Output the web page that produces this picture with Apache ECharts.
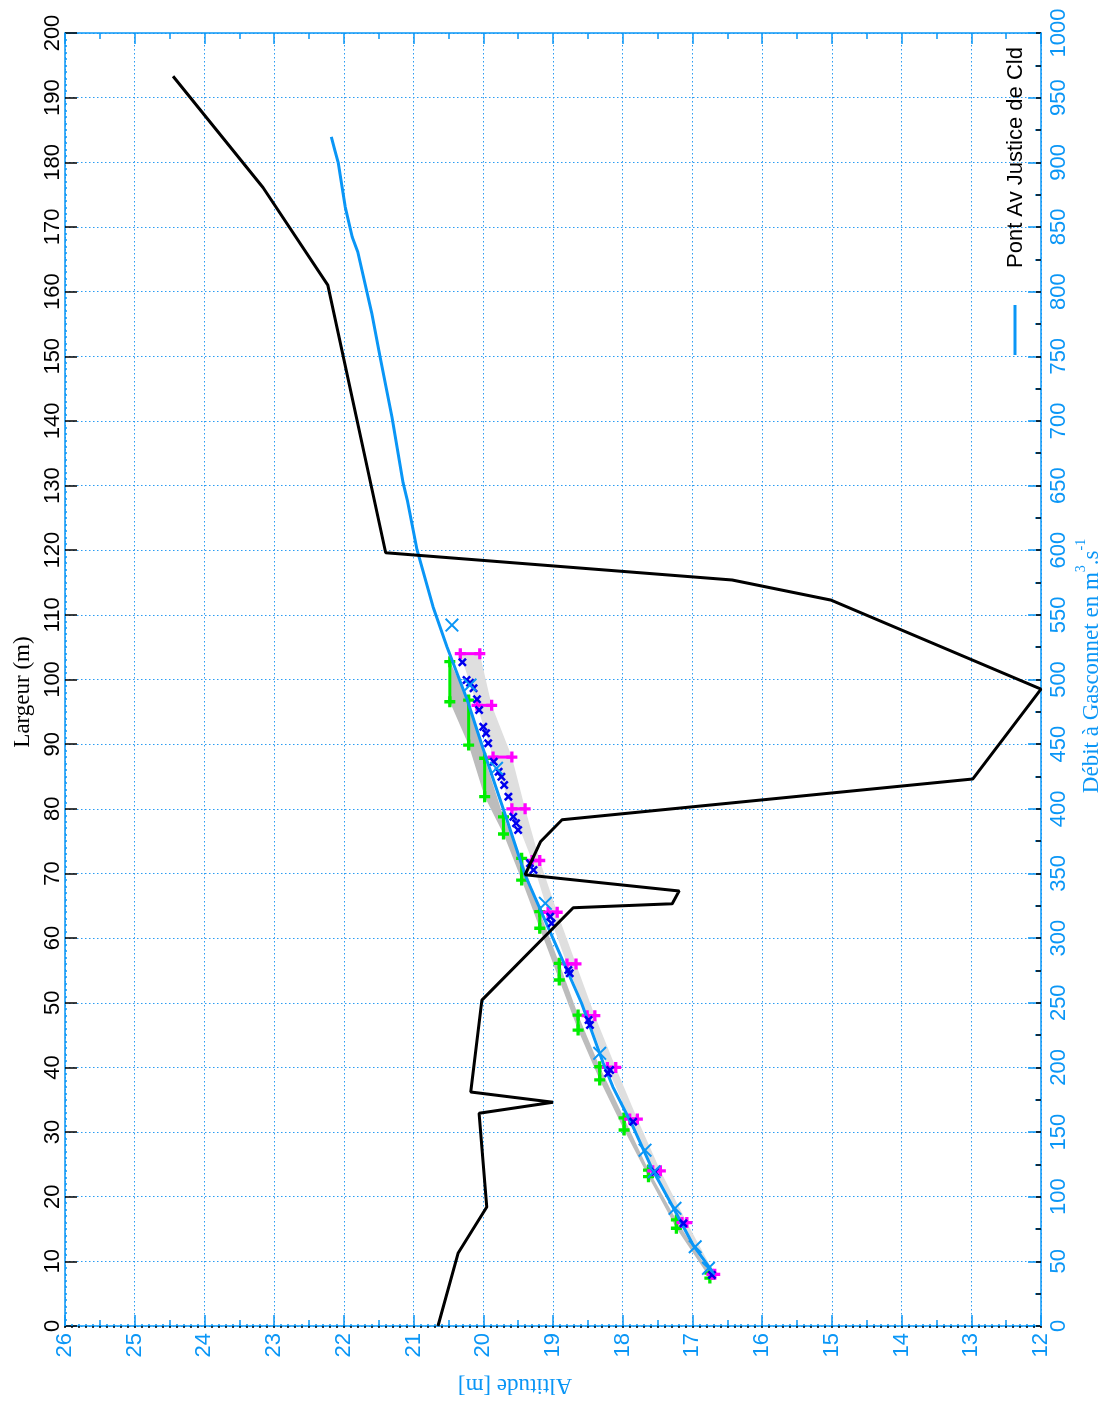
<!DOCTYPE html>
<html>
<head>
<meta charset="utf-8">
<script src="https://cdn.jsdelivr.net/npm/echarts@6/dist/echarts.min.js"></script>
<style>
  html, body { margin: 0; padding: 0; background: #ffffff; }
  #chart { width: 1107px; height: 1405px; }
</style>
</head>
<body>
<div id="chart"></div>
<script>
// Profil en travers : altitude (m) en fonction de la largeur (m)
const profileAlt   = [20.65, 20.36, 19.95, 20.06, 19.00, 20.18, 20.02, 18.71, 17.29, 17.19, 19.40, 19.18, 18.87, 12.98, 12.00, 15.02, 16.43, 21.40, 22.23, 23.16, 24.45];
const profileWidth = [0, 11.3, 18.4, 32.9, 34.6, 36.2, 50.4, 64.7, 65.3, 67.3, 69.8, 74.9, 78.3, 84.6, 98.5, 112.3, 115.4, 119.6, 161.0, 176.1, 193.3];

// Courbe de tarage : altitude (m) / débit (m3/s)
const ratingAlt = [16.70, 16.99, 17.28, 17.57, 17.85, 18.14, 18.28, 18.59, 19.00, 19.40, 19.66, 19.95, 20.23, 20.52, 20.72, 20.95, 21.09, 21.15, 21.31, 21.48, 21.60, 21.80, 21.88, 21.98, 22.08, 22.13, 22.18];
const ratingQ   = [41.0, 62.6, 92.0, 120.6, 153.9, 184.8, 203.4, 249.6, 299.8, 348.8, 391.3, 437.7, 484.1, 525.1, 556.1, 600.2, 638.8, 652.0, 703.0, 749.4, 783.4, 830.6, 842.2, 865.4, 899.5, 909.5, 919.6];

// Jaugeages (croix bleu clair)
const gaugeAlt = [16.77, 16.96, 17.25, 17.55, 17.68, 18.33, 19.11, 19.81, 20.19, 20.45];
const gaugeQ   = [44.6, 61.3, 91.0, 119.3, 136.0, 210.9, 326.9, 431.3, 495.7, 542.1];

// Points calculés (petites croix bleues)
const obsAlt = [20.30, 20.24, 20.19, 20.14, 20.09, 20.06, 20.00, 19.96, 19.93, 19.85, 19.78, 19.74, 19.70, 19.64, 19.57, 19.53, 19.50, 19.33, 19.28, 19.04, 19.02, 18.78, 18.76, 18.49, 18.47, 18.21, 18.18, 17.85, 17.54, 17.13, 16.72];
const obsQ   = [513.3, 499.6, 497.5, 493.2, 484.7, 476.4, 463.5, 458.4, 450.7, 436.4, 428.7, 424.8, 418.4, 409.4, 393.9, 388.8, 383.6, 357.9, 352.7, 316.6, 311.4, 275.3, 272.8, 236.7, 232.8, 195.4, 198.0, 158.0, 119.3, 79.4, 39.4];

// Intervalles en altitude à débit fixé (magenta)
const levelQ     = [40, 80, 120, 160, 200, 240, 280, 320, 360, 400, 440, 480, 520];
const magAltHigh = [16.72, 17.15, 17.57, 17.90, 18.22, 18.51, 18.80, 19.07, 19.30, 19.59, 19.86, 20.09, 20.33];
const magAltLow  = [16.68, 17.08, 17.46, 17.79, 18.10, 18.40, 18.67, 18.94, 19.19, 19.40, 19.59, 19.88, 20.05];

// Intervalles en débit à altitude fixée (vert)
const greenAlt   = [16.75, 17.23, 17.63, 17.98, 18.33, 18.64, 18.91, 19.19, 19.45, 19.71, 19.98, 20.21, 20.48];
const greenQLow  = [37.1, 75.6, 115.5, 151.6, 190.3, 228.9, 267.6, 307.6, 344.9, 380.5, 409.4, 449.3, 482.8];
const greenQHigh = [41.0, 82.0, 120.6, 160.9, 200.5, 240.5, 280.5, 320.4, 361.7, 393.7, 439.1, 484.1, 513.8];

const SANS  = '"Liberation Sans", Arial, sans-serif';
const SERIF = '"Liberation Serif", "Times New Roman", serif';
const BLUE = '#0a96f6';
const GRID_BLUE = '#2b9cf2';
const MAGENTA = '#ff00ff';
const GREEN = '#00ee00';
const NAVY = '#0000ee';

const PLUS  = 'path://M3.5,0H6.5V3.5H10V6.5H6.5V10H3.5V6.5H0V3.5H3.5Z';
const XTHIN = 'path://M0,1L1,0L5,4L9,0L10,1L6,5L10,9L9,10L5,6L1,10L0,9L4,5Z';
const XBOLD = 'path://M0,2L2,0L5,3L8,0L10,2L7,5L10,8L8,10L5,7L2,10L0,8L3,5Z';

const pairs = (a, b) => a.map((v, i) => [v, b[i]]);
const plain = (v) => String(v);

const chart = echarts.init(document.getElementById('chart'), null, { renderer: 'canvas' });

const gridLine = { show: true, lineStyle: { color: GRID_BLUE, type: [1.5, 2.5], width: 1 } };

const option = {
  animation: false,
  backgroundColor: '#ffffff',
  grid: { left: 65, right: 66, top: 33, bottom: 79, containLabel: false },
  xAxis: [
    { // altitude, bas
      type: 'value', min: 12, max: 26, interval: 1, inverse: true, position: 'bottom',
      axisLine: { show: true, onZero: false, lineStyle: { color: BLUE, width: 1.5 } },
      axisTick: { show: true, inside: true, length: 11, lineStyle: { color: BLUE, width: 1.5 } },
      minorTick: { show: true, splitNumber: 2, length: 6, lineStyle: { color: BLUE, width: 1.5 } },
      axisLabel: { rotate: 90, margin: 7, color: BLUE, fontSize: 22, fontFamily: SANS, formatter: plain },
      splitLine: gridLine
    },
    { // altitude, haut
      type: 'value', min: 12, max: 26, interval: 1, inverse: true, position: 'top',
      axisLine: { show: true, onZero: false, lineStyle: { color: BLUE, width: 1.5 } },
      axisTick: { show: true, inside: true, length: 11, lineStyle: { color: BLUE, width: 1.5 } },
      minorTick: { show: true, splitNumber: 2, length: 6, lineStyle: { color: BLUE, width: 1.5 } },
      axisLabel: { show: false }, splitLine: { show: false }
    },
    { // graduations fines, bas
      type: 'value', min: 12, max: 26, interval: 0.1, inverse: true, position: 'top',
      axisLine: { show: false }, axisLabel: { show: false }, splitLine: { show: false },
      axisTick: { show: true, inside: true, length: 2, lineStyle: { color: '#000000', width: 1.5 } }
    },
    { // graduations fines, haut
      type: 'value', min: 12, max: 26, interval: 0.1, inverse: true, position: 'bottom',
      axisLine: { show: false }, axisLabel: { show: false }, splitLine: { show: false },
      axisTick: { show: true, inside: true, length: 2, lineStyle: { color: BLUE, width: 1.5 } }
    }
  ],
  yAxis: [
    { // largeur
      type: 'value', min: 0, max: 200, interval: 10, position: 'left',
      axisLine: { show: true, onZero: false, lineStyle: { color: BLUE, width: 1.5 } },
      axisTick: { show: true, inside: true, length: 12, lineStyle: { color: '#000000', width: 1.5 } },
      minorTick: { show: true, splitNumber: 10, length: 2, lineStyle: { color: BLUE, width: 1.5 } },
      axisLabel: { rotate: 90, margin: 1, color: '#000000', fontSize: 22, fontFamily: SANS, formatter: plain },
      splitLine: { show: false }
    },
    { // débit
      type: 'value', min: 0, max: 1000, interval: 50, position: 'right',
      axisLine: { show: true, onZero: false, lineStyle: { color: BLUE, width: 1.5 } },
      axisTick: { show: true, inside: true, length: 13, lineStyle: { color: BLUE, width: 1.5 } },
      minorTick: { show: true, splitNumber: 2, length: 6, lineStyle: { color: BLUE, width: 1.5 } },
      axisLabel: { rotate: 90, margin: 7, color: BLUE, fontSize: 22, fontFamily: SANS, formatter: plain },
      splitLine: gridLine
    },
    { // largeur, graduations intermédiaires
      type: 'value', min: 0, max: 200, interval: 5, position: 'right',
      axisLine: { show: false }, axisLabel: { show: false }, splitLine: { show: false },
      axisTick: { show: true, inside: true, length: 5, lineStyle: { color: '#000000', width: 1.5 } }
    }
  ],
  graphic: [
    {
      type: 'text', x: 23, y: 692, rotation: Math.PI / 2, silent: true,
      style: { text: 'Largeur (m)', font: '23px ' + SERIF, fill: '#000000', align: 'center', verticalAlign: 'middle' }
    },
    {
      type: 'text', x: 515, y: 1385, rotation: Math.PI, silent: true,
      style: { text: 'Altitude [m]', font: '23px ' + SERIF, fill: BLUE, align: 'center', verticalAlign: 'middle' }
    },
    {
      type: 'text', x: 1089, y: 666, rotation: Math.PI / 2, silent: true,
      style: {
        text: '{a|Débit à Gasconnet en m}{s|3}{a|.s}{s|-1}',
        align: 'center', verticalAlign: 'middle',
        rich: {
          a: { fontSize: 23, fontFamily: SERIF, fill: BLUE, lineHeight: 29, verticalAlign: 'bottom' },
          s: { fontSize: 14, fontFamily: SERIF, fill: BLUE, lineHeight: 14, verticalAlign: 'top' }
        }
      }
    },
    {
      type: 'group', silent: true,
      children: [
        { type: 'line', shape: { x1: 1015, y1: 305, x2: 1015, y2: 355 }, style: { stroke: BLUE, lineWidth: 3 } },
        {
          type: 'text', x: 1016, y: 268, rotation: Math.PI / 2,
          style: { text: 'Pont Av Justice de Cld', font: '22px ' + SANS, fill: '#000000', align: 'left', verticalAlign: 'middle' }
        }
      ]
    }
  ],
  series: [
    { // bande claire (intervalles en altitude)
      type: 'custom', xAxisIndex: 0, yAxisIndex: 1, z: 1, silent: true,
      data: [[magAltHigh[0], levelQ[0]]],
      renderItem: function (params, api) {
        const pts = [];
        for (let i = 0; i < levelQ.length; i++) pts.push(api.coord([magAltHigh[i], levelQ[i]]));
        for (let i = levelQ.length - 1; i >= 0; i--) pts.push(api.coord([magAltLow[i], levelQ[i]]));
        return { type: 'polygon', shape: { points: pts }, style: { fill: '#dfdfdf' } };
      }
    },
    { // bande foncée (intervalles en débit)
      type: 'custom', xAxisIndex: 0, yAxisIndex: 1, z: 1, silent: true,
      data: [[greenAlt[0], greenQLow[0]]],
      renderItem: function (params, api) {
        const pts = [];
        for (let i = 0; i < greenAlt.length; i++) pts.push(api.coord([greenAlt[i], greenQHigh[i]]));
        for (let i = greenAlt.length - 1; i >= 0; i--) pts.push(api.coord([greenAlt[i], greenQLow[i]]));
        return { type: 'polygon', shape: { points: pts }, style: { fill: '#bcbcbc' } };
      }
    },
    { // barres vertes
      type: 'custom', xAxisIndex: 0, yAxisIndex: 1, z: 3, silent: true,
      data: greenAlt.map((a, i) => [a, greenQLow[i], greenQHigh[i]]),
      renderItem: function (params, api) {
        const p1 = api.coord([api.value(0), api.value(1)]);
        const p2 = api.coord([api.value(0), api.value(2)]);
        return { type: 'line', shape: { x1: p1[0], y1: p1[1], x2: p2[0], y2: p2[1] }, style: { stroke: GREEN, lineWidth: 3 } };
      }
    },
    {
      type: 'scatter', xAxisIndex: 0, yAxisIndex: 1, z: 3, silent: true,
      symbol: PLUS, symbolSize: 11, itemStyle: { color: GREEN, opacity: 1 },
      data: pairs(greenAlt, greenQLow).concat(pairs(greenAlt, greenQHigh))
    },
    { // barres magenta
      type: 'custom', xAxisIndex: 0, yAxisIndex: 1, z: 3, silent: true,
      data: levelQ.map((q, i) => [magAltHigh[i], magAltLow[i], q]),
      renderItem: function (params, api) {
        const p1 = api.coord([api.value(0), api.value(2)]);
        const p2 = api.coord([api.value(1), api.value(2)]);
        return { type: 'line', shape: { x1: p1[0], y1: p1[1], x2: p2[0], y2: p2[1] }, style: { stroke: MAGENTA, lineWidth: 3 } };
      }
    },
    {
      type: 'scatter', xAxisIndex: 0, yAxisIndex: 1, z: 3, silent: true,
      symbol: PLUS, symbolSize: 11, itemStyle: { color: MAGENTA, opacity: 1 },
      data: pairs(magAltHigh, levelQ).concat(pairs(magAltLow, levelQ))
    },
    {
      name: 'Pont Av Justice de Cld',
      type: 'line', xAxisIndex: 0, yAxisIndex: 1, z: 4, silent: true,
      showSymbol: false, symbol: 'none',
      lineStyle: { color: BLUE, width: 3 },
      data: pairs(ratingAlt, ratingQ)
    },
    {
      type: 'scatter', xAxisIndex: 0, yAxisIndex: 1, z: 5, silent: true,
      symbol: XBOLD, symbolSize: 9, itemStyle: { color: NAVY, opacity: 1 },
      data: pairs(obsAlt, obsQ)
    },
    {
      type: 'scatter', xAxisIndex: 0, yAxisIndex: 1, z: 6, silent: true,
      symbol: XTHIN, symbolSize: 14, itemStyle: { color: BLUE, opacity: 1 },
      data: pairs(gaugeAlt, gaugeQ)
    },
    {
      type: 'line', xAxisIndex: 0, yAxisIndex: 0, z: 7, silent: true,
      showSymbol: false, symbol: 'none',
      lineStyle: { color: '#000000', width: 3 },
      data: pairs(profileAlt, profileWidth)
    }
  ]
};

chart.setOption(option);
</script>
</body>
</html>
